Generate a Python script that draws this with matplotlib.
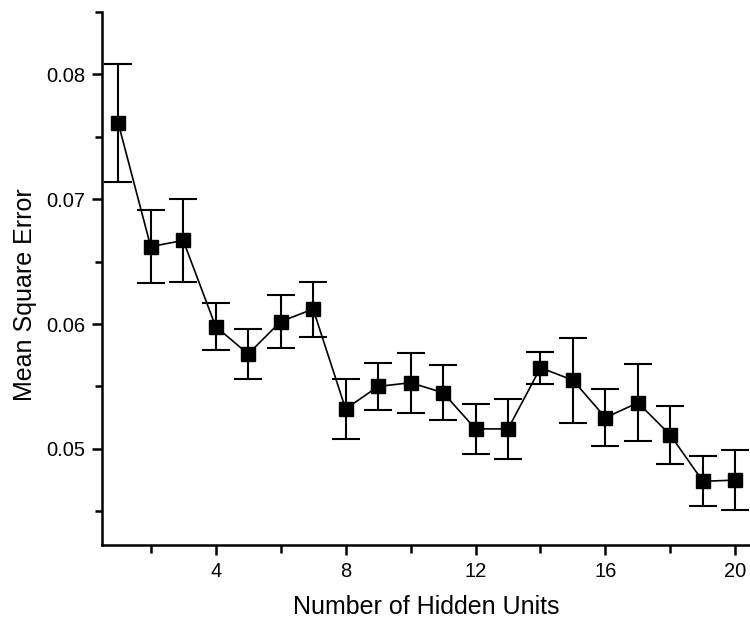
import matplotlib
matplotlib.use("Agg")
import matplotlib.pyplot as plt
from matplotlib.ticker import MultipleLocator, FixedLocator
import numpy as np

# mean square error vs. size of the hidden layer (mean +/- error)
hidden_units = np.arange(1, 21)
mse = np.array([0.0761, 0.0662, 0.0667, 0.0598, 0.0576, 0.0602, 0.0612, 0.0532, 0.0550, 0.0553,
                0.0545, 0.0516, 0.0516, 0.0565, 0.0555, 0.0525, 0.0537, 0.0511, 0.0474, 0.0475])
mse_err = np.array([0.0047, 0.0029, 0.0033, 0.0019, 0.0020, 0.0021, 0.0022, 0.0024, 0.0019, 0.0024,
                    0.0022, 0.0020, 0.0024, 0.0013, 0.0034, 0.0023, 0.0031, 0.0023, 0.0020, 0.0024])

x_labeled = [4, 8, 12, 16, 20]
x_unlabeled = [2, 6, 10, 14, 18]
y_ticks = [0.05, 0.06, 0.07, 0.08]

plt.rcParams["font.family"] = ["Liberation Sans", "DejaVu Sans"]

fig = plt.figure(figsize=(7.5, 6.21), dpi=100)
ax = fig.add_axes([0.136, 0.1224, 0.864, 0.8583])

ax.errorbar(hidden_units, mse, yerr=mse_err, color="black", ecolor="black",
            marker="s", markersize=9.5, linewidth=1.2, elinewidth=1.5,
            capsize=10, capthick=1.5)

ax.set_xlim(0.5, 20.45)
ax.set_ylim(0.0423, 0.085)

ax.xaxis.set_major_locator(FixedLocator(x_labeled))
ax.xaxis.set_minor_locator(FixedLocator(x_unlabeled))
ax.yaxis.set_major_locator(FixedLocator(y_ticks))
ax.yaxis.set_minor_locator(MultipleLocator(0.005))
ax.set_yticklabels([f"{v:.2f}" for v in y_ticks])

for side in ["top", "right"]:
    ax.spines[side].set_visible(False)
for side in ["left", "bottom"]:
    ax.spines[side].set_linewidth(1.8)

ax.tick_params(axis="both", which="major", direction="out", length=7, width=1.8,
               labelsize=14.5, pad=5)
ax.tick_params(axis="x", which="minor", direction="out", length=6, width=1.8)
ax.tick_params(axis="y", which="minor", direction="out", length=5, width=1.8)

ax.set_xlabel("Number of Hidden Units", fontsize=18, labelpad=10)
ax.set_ylabel("Mean Square Error", fontsize=18)
ax.yaxis.set_label_coords(-0.1, 0.47)

fig.savefig("out.png", dpi=100)
